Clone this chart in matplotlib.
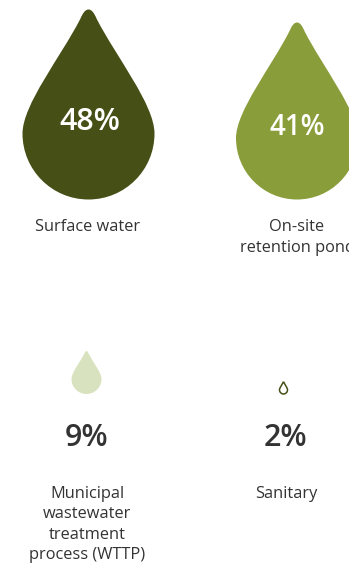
import matplotlib
matplotlib.use("Agg")
import matplotlib.pyplot as plt
from matplotlib.patches import PathPatch, Rectangle
from matplotlib.path import Path

plt.rcParams['font.family'] = ['Open Sans', 'DejaVu Sans']

# Share of water discharge by destination
categories = ['Surface water', 'On-site\nretention pond',
              'Municipal\nwastewater\ntreatment\nprocess (WTTP)', 'Sanitary']
shares = [48, 41, 9, 2]

# Layout in pixels: drop centre, drop bottom, drop height, label centre
centers = [88.5, 297, 86.5, 283.5]
bottoms = [199.5, 199.5, 394, 394]
heights = [190, 177, 43, 12]
widths = [132, 122, 30, 8]
fills = ['#465016', '#8a9d3b', '#d9e2bf', 'white']
edges = ['none', 'none', 'none', '#465016']
pct_y = [122, 127.5, 438.5, 438.5]
pct_x = [90, 297.5, 86.5, 285.5]
pct_sizes = [22, 20, 22, 22]
pct_colors = ['white', 'white', '#333333', '#333333']
label_x = [88, 297, 87, 286]
label_y = [227, 237.5, 524.5, 494]

def drop_path(cx, bottom, w, h):
    # Unit drop: x in [-1, 1], y from 0 at the tip to 1 at the base
    right = [(0, 0), (0.05, 0), (0.085, 0.018), (0.125, 0.05),
             (0.42, 0.25), (1, 0.50), (1, 0.653),
             (1, 0.845), (0.552, 1), (0, 1)]
    left = [(-x, y) for x, y in reversed(right[:-1])]
    pts = right + left
    verts = [(cx + x * w / 2, bottom - h + y * h) for x, y in pts]
    codes = [Path.MOVETO] + [Path.CURVE4] * (len(verts) - 1)
    return Path(verts, codes)

fig = plt.figure(figsize=(3.49, 5.63), dpi=100)
ax = fig.add_axes([0, 0, 1, 1])
ax.set_xlim(0, 349)
ax.set_ylim(563, 0)
ax.axis('off')

for i, share in enumerate(shares):
    ax.add_patch(PathPatch(drop_path(centers[i], bottoms[i], widths[i], heights[i]),
                           facecolor=fills[i], edgecolor=edges[i], lw=1.1))
    ax.text(pct_x[i], pct_y[i], f'{share}%', color=pct_colors[i], fontsize=pct_sizes[i],
            fontweight='semibold', ha='center', va='center')
    txt = ax.text(label_x[i], label_y[i], categories[i], color='#333333', fontsize=11.8,
                  ha='center', va='center', linespacing=1.38)
    if i == 1:
        # The second column is cut off at its left edge
        txt.set_clip_path(Rectangle((240, 200), 120, 80, transform=ax.transData))
        txt.set_clip_on(True)

fig.savefig('out.png', dpi=100)
